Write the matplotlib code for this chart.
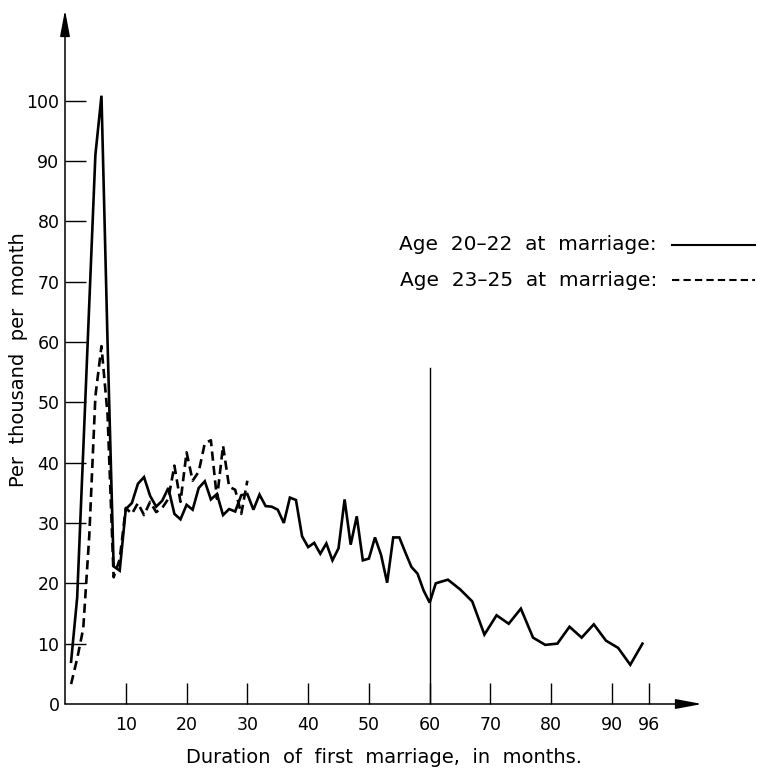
import matplotlib
matplotlib.use("Agg")
import matplotlib.pyplot as plt
from matplotlib.lines import Line2D

# Age 20-22 at marriage (solid): monthly to 60, then every second month
months_a = list(range(1, 61)) + list(range(61, 96, 2))
rate_a = [7, 17.6, 42, 66.5, 91, 100.8, 60, 22.8, 22.1, 32.3,
          33.3, 36.5, 37.6, 34.5, 32.7, 33.7, 35.8, 31.5, 30.6, 33,
          32.2, 35.8, 36.9, 33.9, 34.8, 31.3, 32.3, 31.9, 34.6, 34.8,
          32.2, 34.7, 32.8, 32.7, 32.2, 30, 34.2, 33.8, 27.8, 26,
          26.7, 24.9, 26.6, 23.8, 25.8, 33.9, 26.4, 31.1, 23.8, 24.1,
          27.6, 24.7, 20.1, 27.6, 27.6, 25.1, 22.7, 21.6, 18.8, 16.8,
          20, 20.6, 19, 17, 11.5, 14.7, 13.3, 15.8, 11, 9.8,
          10, 12.8, 11, 13.2, 10.5, 9.3, 6.5, 10]

# Age 23-25 at marriage (dashed)
months_b = list(range(1, 31))
rate_b = [3.3, 7.5, 12.5, 28, 51, 59.3, 48, 21, 24, 32.5,
          31.5, 33.3, 31.3, 33.5, 31.8, 32.5, 34, 39.5, 33.5, 41.7,
          37, 38.5, 43.2, 43.7, 34, 42.8, 36, 35.5, 31.5, 37]

xticks = [10, 20, 30, 40, 50, 60, 70, 80, 90, 96]
yticks = list(range(0, 101, 10))
legend_labels = ["Age  20\u201322  at  marriage:", "Age  23\u201325  at  marriage:"]

W, H = 757, 770
fig = plt.figure(figsize=(W / 100, H / 100), dpi=100)
ax = fig.add_axes([65 / W, 66 / H, 637 / W, 694 / H])
ax.set_xlim(0, 104.8)
ax.set_ylim(0, 115)

ax.plot(months_a, rate_a, color="black", lw=1.9, solid_joinstyle="miter")
ax.plot(months_b, rate_b, color="black", lw=1.9, dashes=(3.5, 2))
ax.plot([60, 60], [0, 55.7], color="black", lw=1.0)

for s in ax.spines.values():
    s.set_visible(False)

# axes drawn as arrows
arrow = dict(arrowstyle="-|>,head_length=16,head_width=3", color="black",
             lw=1.1, shrinkA=0, shrinkB=0, mutation_scale=1)
ax.annotate("", xy=(104.8, 0), xytext=(0, 0), arrowprops=arrow, annotation_clip=False)
ax.annotate("", xy=(0, 115), xytext=(0, 0), arrowprops=arrow, annotation_clip=False)

ax.set_xticks(xticks)
ax.set_yticks(yticks)
ax.tick_params(axis="both", direction="in", length=15, width=1.0, labelsize=12.5)
ax.tick_params(axis="x", pad=9)
ax.tick_params(axis="y", pad=4)
# no tick at 0 on y axis
ax.yaxis.get_major_ticks()[0].tick1line.set_visible(False)

ax.set_xlabel("Duration  of  first  marriage,  in  months.", fontsize=14, labelpad=10)
fig.text(19 / W, 1 - 360 / H, "Per  thousand  per  month", rotation=90,
         ha="center", va="center", fontsize=14)

# legend, text on the left and line sample on the right
for i, lab in enumerate(legend_labels):
    yy = 1 - (245 + 35 * i) / H
    fig.text(657 / W, yy, lab, ha="right", va="center", fontsize=14.5)
    ls = "-" if i == 0 else (0, (3.5, 2))
    fig.add_artist(Line2D([672 / W, 755 / W], [yy, yy], color="black", lw=1.5,
                          linestyle=ls, transform=fig.transFigure))

fig.savefig("out.png", dpi=100)
